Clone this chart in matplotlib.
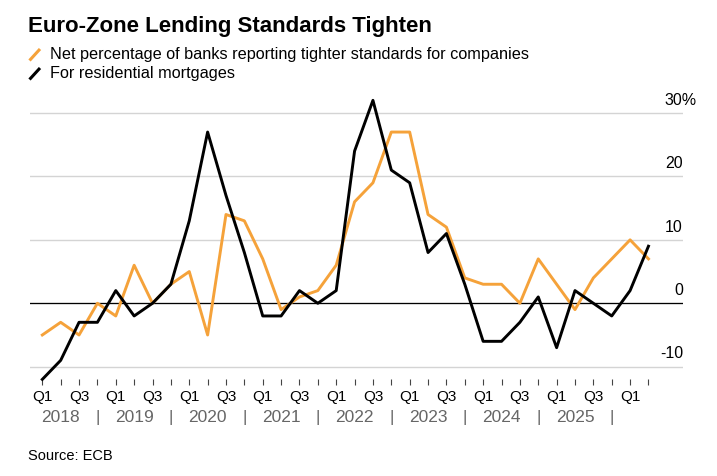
import matplotlib
matplotlib.use("Agg")
import matplotlib.pyplot as plt
from matplotlib.lines import Line2D

plt.rcParams['font.family'] = ['Liberation Sans', 'DejaVu Sans']

# quarterly, 2018 Q1 .. 2026 Q2
companies = [-5, -3, -5, 0, -2, 6, 0, 3, 5, -5, 14, 13, 7, -1, 1, 2, 6, 16,
             19, 27, 27, 14, 12, 4, 3, 3, 0, 7, 3, -1, 4, 7, 10, 7]
mortgages = [-12, -9, -3, -3, 2, -2, 0, 3, 13, 27, 17, 8, -2, -2, 2, 0, 2, 24,
             32, 21, 19, 8, 11, 3, -6, -6, -3, 1, -7, 2, 0, -2, 2, 9]
years = ['2018', '2019', '2020', '2021', '2022', '2023', '2024', '2025']
y_ticks = [-10, 0, 10, 20, 30]

ORANGE = '#F5A23A'
W, H = 717, 477

fig = plt.figure(figsize=(W / 100, H / 100), dpi=100)
# axes box in pixels: left 30, right 683, top 95, bottom 380
ax = fig.add_axes([30 / W, 1 - 380 / H, (683 - 30) / W, (380 - 95) / H])

x = list(range(len(companies)))
ax.plot(x, companies, color=ORANGE, lw=2.1, clip_on=False, zorder=3)
ax.plot(x, mortgages, color='black', lw=2.1, clip_on=False, zorder=4)

ax.set_xlim(-0.67, 34.88)
ax.set_ylim(-11.94, 33.0)

for s in ax.spines.values():
    s.set_visible(False)

ax.set_yticks(y_ticks)
ax.tick_params(axis='y', length=0, labelleft=False)
ax.grid(axis='y', color='#d4d4d4', lw=1)
ax.axhline(0, color='black', lw=0.9, zorder=2)

for v in y_ticks:
    lab = str(v) + ('%' if v == 30 else '')
    dx = 9.6 if v == 30 else 0
    ax.annotate(lab, xy=(1, v), xycoords=('axes fraction', 'data'),
                xytext=(dx, 4.5), textcoords='offset points',
                ha='right', va='bottom', fontsize=11.5)

q_labels = []
for i in x:
    if i % 4 == 0 and i <= 32:
        q_labels.append('Q1')
    elif i % 4 == 2:
        q_labels.append('Q3')
    else:
        q_labels.append('')
ax.set_xticks(x)
ax.set_xticklabels(q_labels, fontsize=11)
ax.tick_params(axis='x', length=4.5, width=0.8, color='#444444', pad=3)

for k, yr in enumerate(years):
    ax.annotate(yr, xy=(4 * k + 1, 0), xycoords=('data', 'axes fraction'),
                xytext=(0, -27), textcoords='offset points',
                ha='center', va='center', fontsize=12.5, color='#666666')
    ax.annotate('|', xy=(4 * k + 3, 0), xycoords=('data', 'axes fraction'),
                xytext=(0, -27), textcoords='offset points',
                ha='center', va='center', fontsize=12.5, color='#666666')

fig.text(28 / W, 1 - 32.3 / H, 'Euro-Zone Lending Standards Tighten',
         fontsize=16, fontweight='bold', va='baseline')
fig.text(49.5 / W, 1 - 59.3 / H,
         'Net percentage of banks reporting tighter standards for companies',
         fontsize=11.7, va='baseline')
fig.text(49.5 / W, 1 - 78.3 / H, 'For residential mortgages',
         fontsize=11.7, va='baseline')
fig.add_artist(Line2D([29.5 / W, 40 / W], [1 - 61.5 / H, 1 - 50 / H],
                      color=ORANGE, lw=2.2, solid_capstyle='butt'))
fig.add_artist(Line2D([29.5 / W, 40 / W], [1 - 80.5 / H, 1 - 69 / H],
                      color='black', lw=2.2, solid_capstyle='butt'))
fig.text(28 / W, 1 - 460 / H, 'Source: ECB', fontsize=10.5, va='baseline')

fig.savefig('out.png', dpi=100)
